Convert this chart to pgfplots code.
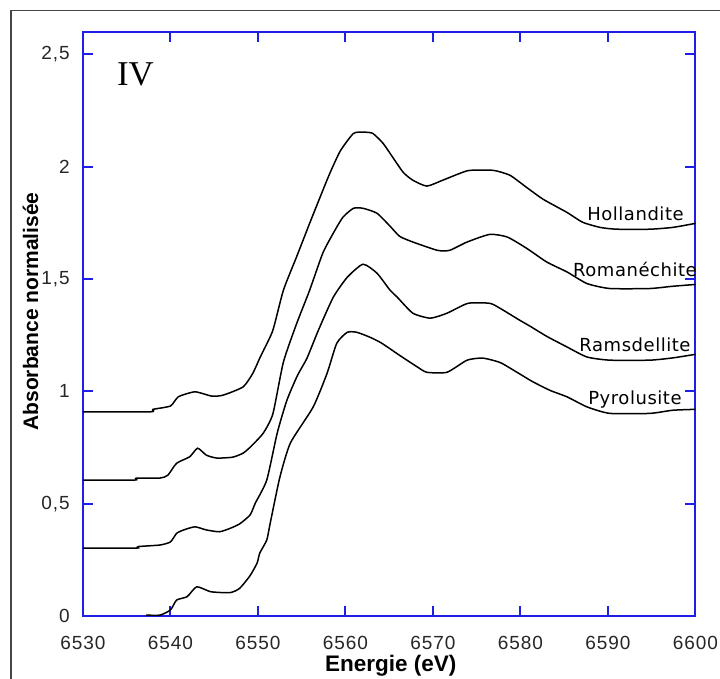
\documentclass[border=0pt]{standalone}
\usepackage{fontspec}
\setmainfont{Liberation Sans}
\newfontfamily\tickfont[LetterSpace=5]{Liberation Sans}
\newfontfamily\lblfont[LetterSpace=3]{DejaVu Sans}
\newfontfamily\seriffont{Liberation Serif}
\usepackage{pgfplots}
\pgfplotsset{compat=1.18}
\definecolor{axblue}{RGB}{30,30,230}
\definecolor{framegray}{RGB}{70,70,70}

\pgfplotstableread{
x y
6530 0.909
6537.7 0.909
6538.0 0.920
6540.0 0.935
6540.9 0.976
6542.8 0.998
6544.7 0.979
6546.0 0.983
6548.3 1.020
6549.4 1.080
6550.2 1.148
6550.6 1.180
6551.7 1.272
6552.9 1.450
6554.4 1.598
6555.9 1.748
6557.1 1.865
6558.2 1.970
6559.4 2.070
6560.9 2.148
6562.0 2.154
6563.1 2.149
6564.3 2.104
6565.4 2.042
6566.6 1.975
6567.7 1.940
6569.3 1.914
6571.1 1.940
6573.1 1.971
6574.2 1.984
6576.9 1.984
6578.8 1.962
6580.7 1.908
6582.6 1.855
6585.3 1.797
6587.1 1.753
6589.1 1.730
6591.0 1.722
6594.8 1.722
6597.4 1.730
6600 1.748
}\hollandite

\pgfplotstableread{
x y
6530 0.605
6535.9 0.605
6536.1 0.614
6538.8 0.614
6539.7 0.627
6540.7 0.680
6542.2 0.709
6543.1 0.747
6544.1 0.716
6545.3 0.703
6547.1 0.707
6548.3 0.725
6549.2 0.755
6550.6 0.814
6551.7 0.900
6552.9 1.130
6554.4 1.300
6555.9 1.450
6557.4 1.615
6558.6 1.704
6559.7 1.775
6560.9 1.815
6562.0 1.815
6563.6 1.793
6565.1 1.735
6566.2 1.690
6567.7 1.665
6570.5 1.628
6571.9 1.628
6573.9 1.665
6576.5 1.699
6578.5 1.687
6580.7 1.637
6583.0 1.576
6585.3 1.532
6587.6 1.480
6590.2 1.458
6594.8 1.458
6597.4 1.468
6600 1.476
}\romanechite

\pgfplotstableread{
x y
6530 0.302
6536.1 0.302
6536.3 0.309
6538.8 0.316
6540.0 0.330
6540.7 0.368
6541.5 0.383
6542.8 0.397
6544.1 0.383
6545.6 0.375
6546.8 0.390
6547.9 0.410
6549.1 0.450
6549.7 0.503
6551.0 0.605
6552.2 0.815
6553.3 0.960
6554.5 1.070
6555.6 1.148
6556.9 1.272
6558.6 1.419
6560.2 1.508
6562.0 1.566
6563.6 1.526
6565.1 1.450
6565.9 1.420
6567.7 1.348
6569.7 1.326
6571.6 1.348
6574.0 1.392
6576.5 1.392
6577.7 1.369
6579.9 1.317
6581.1 1.290
6583.0 1.245
6585.3 1.198
6587.6 1.153
6590.2 1.139
6594.8 1.139
6597.4 1.149
6600 1.165
}\ramsdellite

\pgfplotstableread{
x y
6537.2 0.004
6538.8 0.004
6540.0 0.027
6540.7 0.071
6541.9 0.086
6543.0 0.130
6544.6 0.108
6546.8 0.104
6547.9 0.123
6549.1 0.180
6549.9 0.236
6550.2 0.280
6551.0 0.338
6551.4 0.414
6552.5 0.618
6553.7 0.770
6556.3 0.930
6557.9 1.081
6559.0 1.214
6560.2 1.263
6561.3 1.263
6562.8 1.241
6563.9 1.220
6564.7 1.200
6566.2 1.160
6568.2 1.109
6569.3 1.085
6571.6 1.085
6573.9 1.139
6575.7 1.148
6577.7 1.128
6579.6 1.085
6581.4 1.043
6583.4 1.004
6585.3 0.976
6587.6 0.931
6590.2 0.902
6594.8 0.902
6597.4 0.916
6600 0.920
}\pyrolusite

\begin{document}
\begin{tikzpicture}
\useasboundingbox (0,0) rectangle (360pt,339.5pt);
\begin{scope}
\clip (0,0) rectangle (360pt,339.5pt);
\draw[framegray, line width=0.6pt] (5.5pt,-10pt) rectangle (370pt,334.25pt);
\end{scope}
\begin{axis}[
  at={(41.5pt,31.5pt)}, anchor=south west,
  scale only axis, width=306.25pt, height=292pt,
  xmin=6530, xmax=6600, ymin=0, ymax=2.6,
  xtick={6530,6540,...,6600}, ytick={0,0.5,...,2.5},
  axis line style={axblue, line width=1pt},
  every tick/.style={axblue, line width=1pt},
  major tick length=5pt,
  tick align=inside,
  xticklabel pos=bottom, yticklabel pos=left,
  /pgf/number format/.cd, use comma, 1000 sep={}, assume math mode=true,
  /pgfplots/.cd,
  xticklabel style={font=\tickfont\fontsize{9.5}{11}\selectfont, text=black!85, anchor=base, inner sep=0pt, yshift=-16.75pt},
  yticklabel style={font=\tickfont\fontsize{9.5}{11}\selectfont, text=black!85, anchor=east, inner sep=0pt, xshift=-6.5pt},
  clip=false,
]
\addplot[black, line width=0.75pt, smooth, tension=0.35] table {\hollandite};
\addplot[black, line width=0.75pt, smooth, tension=0.35] table {\romanechite};
\addplot[black, line width=0.75pt, smooth, tension=0.35] table {\ramsdellite};
\addplot[black, line width=0.75pt, smooth, tension=0.35] table {\pyrolusite};
\end{axis}
\node[anchor=base west, font=\seriffont\fontsize{17.4}{20}\selectfont, inner sep=0pt] at (58.35pt,296.5pt) {IV};
\node[anchor=base, font=\lblfont\fontsize{9}{11}\selectfont, inner sep=0pt] at (317.75pt,229.15pt) {Hollandite};
\node[anchor=base, font=\lblfont\fontsize{9}{11}\selectfont, inner sep=0pt] at (317.5pt,201.15pt) {Romanéchite};
\node[anchor=base, font=\lblfont\fontsize{9}{11}\selectfont, inner sep=0pt] at (317.5pt,163.65pt) {Ramsdellite};
\node[anchor=base, font=\lblfont\fontsize{9}{11}\selectfont, inner sep=0pt] at (317.5pt,137pt) {Pyrolusite};
\node[anchor=base, font=\bfseries\fontsize{11.25}{13}\selectfont, inner sep=0pt] at (195.4pt,3.56pt) {Energie (eV)};
\node[anchor=base, rotate=90, font=\bfseries\fontsize{10.5}{12}\selectfont, inner sep=0pt] at (19pt,183.75pt) {Absorbance normalisée};
\end{tikzpicture}
\end{document}
